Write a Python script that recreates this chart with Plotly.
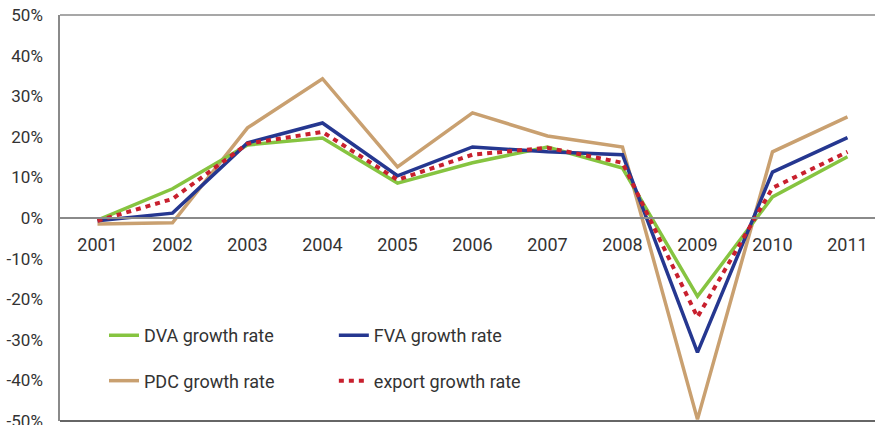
import plotly.graph_objects as go

years = ["2001", "2002", "2003", "2004", "2005", "2006", "2007", "2008", "2009", "2010", "2011"]
dva = [-0.5, 7.2, 18.0, 19.7, 8.6, 13.6, 17.5, 12.3, -19.3, 5.2, 15.1]
fva = [-0.7, 1.2, 18.5, 23.4, 10.4, 17.5, 16.3, 15.6, -33.1, 11.3, 19.8]
pdc = [-1.5, -1.2, 22.2, 34.3, 12.6, 25.9, 20.2, 17.5, -49.6, 16.3, 24.9]
export = [-0.7, 4.7, 18.3, 21.2, 9.4, 15.6, 17.3, 13.6, -24.4, 7.4, 16.3]

ytick_vals = [-50, -40, -30, -20, -10, 0, 10, 20, 30, 40, 50]
ytick_text = ["-50%", "-40%", "-30%", "-20%", "-10%", "0%", "10%", "20%", "30%", "40%", "50%"]

FONT = "Roboto"
fig = go.Figure()
fig.add_trace(go.Scatter(x=years, y=pdc, mode="lines", name="PDC growth rate",
                         line=dict(color="#C9A070", width=3.5), legend="legend",
                         legendgroup="pdc", legendrank=2))
fig.add_trace(go.Scatter(x=years, y=dva, mode="lines", name="DVA growth rate",
                         line=dict(color="#86C440", width=3.5), legend="legend",
                         legendgroup="dva", legendrank=1))
fig.add_trace(go.Scatter(x=years, y=fva, mode="lines", name="FVA growth rate",
                         line=dict(color="#253790", width=3.5), legend="legend2",
                         legendgroup="fva", legendrank=1))
fig.add_trace(go.Scatter(x=years, y=export, mode="lines", name="export growth rate",
                         line=dict(color="#C8202E", width=4, dash="5px,5px"), legend="legend2",
                         legendgroup="exp", legendrank=2))

fig.update_layout(
    width=875, height=425,
    margin=dict(l=60, r=0, t=15, b=4),
    plot_bgcolor="white", paper_bgcolor="white",
    font=dict(family=FONT, color="#333333"),
    xaxis=dict(type="category", range=[-0.5, 10.367], anchor="free", position=0.5,
               showline=True, linecolor="#8a8a8a", linewidth=1.5, showgrid=False,
               zeroline=False, ticks="", ticklabelstandoff=11, automargin=False,
               tickfont=dict(size=18, family=FONT, color="#333333")),
    yaxis=dict(range=[-50, 50], tickvals=ytick_vals, ticktext=ytick_text,
               showgrid=False, zeroline=False, showline=True, linecolor="#8a8a8a",
               linewidth=1.5, ticks="", ticklabelstandoff=12, ticklabeloverflow="allow",
               automargin=False,
               tickfont=dict(size=17, family=FONT, color="#333333")),
    legend=dict(x=0.054, y=0.256, xanchor="left", yanchor="top", bgcolor="rgba(0,0,0,0)",
                font=dict(size=18, family=FONT, color="#333333"), tracegroupgap=19,
                orientation="v"),
    legend2=dict(x=0.336, y=0.256, xanchor="left", yanchor="top", bgcolor="rgba(0,0,0,0)",
                 font=dict(size=18, family=FONT, color="#333333"), tracegroupgap=19,
                 orientation="v"),
    shapes=[
        dict(type="line", xref="paper", yref="paper", x0=0, x1=1, y0=1, y1=1,
             line=dict(color="#8a8a8a", width=1.5)),
        dict(type="line", xref="paper", yref="paper", x0=0, x1=1, y0=0, y1=0,
             line=dict(color="#333333", width=1.5)),
    ],
)

fig.write_html("out.html", config={"displayModeBar": False},
               post_script="document.body.style.margin='0px';document.body.style.overflow='hidden';")
